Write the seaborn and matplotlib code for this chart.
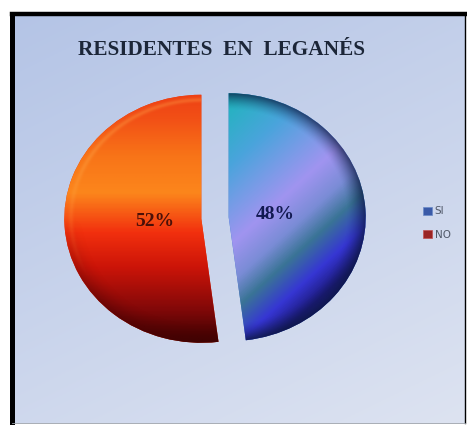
import numpy as np
import matplotlib
matplotlib.use("Agg")
import matplotlib.pyplot as plt
import seaborn as sns
from matplotlib.colors import LinearSegmentedColormap, to_rgb
from matplotlib.patches import Patch

# data
labels = ["SI", "NO"]
values = [48, 52]
title = "RESIDENTES  EN  LEGANÉS"

sns.set_theme(style="white")
plt.rcParams["font.family"] = ["DejaVu Sans"]

W, H = 467, 425
fig = plt.figure(figsize=(W / 100, H / 100), dpi=100, facecolor="white")

# framed panel with a soft blue gradient
bg = fig.add_axes([12 / W, 2 / H, 453 / W, 409 / H], zorder=0)
yy, xx = np.mgrid[0:1:200j, 0:1:200j]
tt = 0.65 * yy + 0.35 * xx
c0, c1 = np.array(to_rgb("#b4c4e6")), np.array(to_rgb("#dde3f1"))
img = c0 + (c1 - c0) * tt[..., None]
bg.imshow(img, extent=[0, 1, 0, 1], origin="upper", aspect="auto")
bg.set_xticks([])
bg.set_yticks([])
for side, lw, col in [("left", 3.6, "black"), ("top", 3.2, "black"),
                      ("right", 1.0, "black"), ("bottom", 0.6, "#9aa0aa")]:
    bg.spines[side].set_linewidth(lw)
    bg.spines[side].set_color(col)

fig.text(221.5 / W, 1 - 50 / H, title, ha="center", va="center",
         fontsize=15.3, fontweight="bold", family="Liberation Serif", color="#1c2638")

# pie axes (stretched a little wider than tall)
rx, ry = 137, 124
cx, cy = 215, H - 218
ax = fig.add_axes([(cx - 1.3 * rx) / W, (cy - 1.3 * ry) / H, 2.6 * rx / W, 2.6 * ry / H], zorder=1)
ax.patch.set_alpha(0)

wedges, texts, autotexts = ax.pie(
    values, explode=[0.1, 0.1], startangle=90, counterclock=False,
    colors=["#3c78c8", "#e83a12"], autopct="%1.0f%%", pctdistance=0.34,
    wedgeprops=dict(linewidth=0),
    textprops=dict(fontsize=14, fontweight="bold", family="Liberation Serif"))

si_cmap = LinearSegmentedColormap.from_list("si", [
    (0.0, "#17b8b6"), (0.28, "#4aa4dc"), (0.55, "#a094f0"), (0.68, "#7a8cd6"),
    (0.78, "#3a7496"), (0.9, "#3636d4"), (1.0, "#1c1a7a")])
no_cmap = LinearSegmentedColormap.from_list("no", [
    (0.0, "#3a0202"), (0.12, "#7e0808"), (0.3, "#cc1408"), (0.44, "#f2300e"),
    (0.6, "#fc861c"), (0.75, "#f87418"), (0.9, "#f25016"), (1.0, "#ee4014")])

gx = np.linspace(-1.3, 1.3, 400)
gy = np.linspace(-1.3, 1.3, 400)
GX, GY = np.meshgrid(gx, gy)
ext = [-1.3, 1.3, -1.3, 1.3]

# SI: diagonal bands
t_si = (GX - GY) / np.sqrt(2)
im = ax.imshow(t_si, cmap=si_cmap, vmin=-0.7, vmax=1.0, extent=ext,
               origin="lower", aspect="auto", zorder=2)
im.set_clip_path(wedges[0])
# NO: vertical shading
im = ax.imshow(GY, cmap=no_cmap, vmin=-1, vmax=1, extent=ext,
               origin="lower", aspect="auto", zorder=2)
im.set_clip_path(wedges[1])


def overlay(w, col, alpha):
    rgba = np.zeros(GX.shape + (4,))
    rgba[..., :3] = to_rgb(col)
    rgba[..., 3] = alpha
    o = ax.imshow(rgba, extent=ext, origin="lower", aspect="auto", zorder=3)
    o.set_clip_path(w)


# dark rim on SI
wc = np.array(wedges[0].center)
r = np.hypot(GX - wc[0], GY - wc[1])
overlay(wedges[0], "#0c1840", np.clip((r - 0.86) / 0.14, 0, 1) ** 1.5 * 0.75)

# NO: dark lower rim, light thin ring on the left
wc = np.array(wedges[1].center)
r = np.hypot(GX - wc[0], GY - wc[1])
low = np.clip(-(GY - wc[1]) * 1.2, 0, 1)
overlay(wedges[1], "#4a0202", np.clip((r - 0.85) / 0.15, 0, 1) ** 1.5 * 0.55 * low)
overlay(wedges[1], "#ffb050",
        np.exp(-((r - 0.955) / 0.018) ** 2) * 0.3 * np.clip(GY + 0.5, 0, 1))

autotexts[0].set_color("#121a52")
autotexts[1].set_color("#4a1008")
for t in autotexts:
    t.set_zorder(5)

ax.set_aspect("auto")
ax.set_xlim(-1.3, 1.3)
ax.set_ylim(-1.3, 1.3)
ax.axis("off")

# legend
handles = [Patch(facecolor="#3a5aa8", edgecolor="#6a8ac8", linewidth=0.5),
           Patch(facecolor="#9a2424", edgecolor="#c05050", linewidth=0.5)]
leg = fig.legend(handles, labels, loc="center left",
                 bbox_to_anchor=(414 / W, 1 - 223 / H), frameon=False,
                 fontsize=7.5, handlelength=0.8, handleheight=0.8,
                 handletextpad=0.3, labelspacing=1.3)
for t in leg.get_texts():
    t.set_color("#505868")

fig.savefig("out.png", dpi=100)
